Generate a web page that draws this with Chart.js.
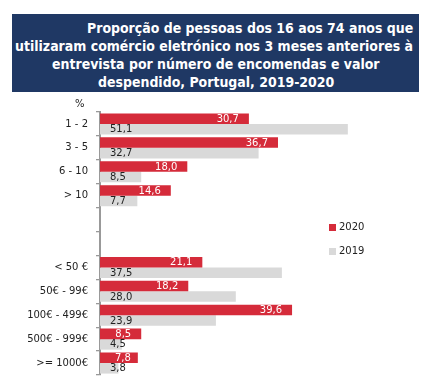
<!DOCTYPE html>
<html><head><meta charset="utf-8">
<script src="https://cdn.jsdelivr.net/npm/chart.js@4.4.1/dist/chart.umd.min.js"></script>
<style>
html,body{margin:0;padding:0;background:#fff;width:432px;height:389px;overflow:hidden;font-family:"DejaVu Sans",sans-serif;}
#title{position:absolute;left:12px;top:14px;width:407px;height:78px;background:#1f3864;}
.tl{position:absolute;white-space:nowrap;color:#fff;font-weight:bold;font-size:14px;line-height:16px;font-family:"DejaVu Sans",sans-serif;transform-origin:0 50%;}
#wrap{position:absolute;left:0;top:0;width:432px;height:389px;}
.lg{position:absolute;font-size:10px;color:#222;line-height:12px;}
.sw{position:absolute;width:7px;height:7px;}
</style></head>
<body>
<div id="title"></div>
<div id="wrap"><canvas id="c" width="432" height="389"></canvas></div>
<div class="lg" style="left:75px;top:98px;">%</div>
<div class="sw" style="left:329px;top:224px;background:#d52b3a;"></div>
<div class="lg" style="left:339px;top:221px;">2020</div>
<div class="sw" style="left:329px;top:248px;background:#d9d9d9;"></div>
<div class="lg" style="left:339px;top:245px;">2019</div>
<script>
const titleLines = [
  "Proporção de pessoas dos 16 aos 74 anos que",
  "utilizaram comércio eletrónico nos 3 meses anteriores à",
  "entrevista por número de encomendas e valor",
  "despendido, Portugal, 2019-2020"
];
const categories = ['1 - 2','3 - 5','6 - 10','> 10','','','< 50 €','50€ - 99€','100€ - 499€','500€ - 999€','>= 1000€'];
const values2020 = [30.7, 36.7, 18.0, 14.6, null, null, 21.1, 18.2, 39.6, 8.5, 7.8];
const values2019 = [51.1, 32.7, 8.5, 7.7, null, null, 37.5, 28.0, 23.9, 4.5, 3.8];
const seriesNames = ['2020','2019'];

// title layout
(function(){
  const box = document.getElementById('title');
  const els = titleLines.map(t=>{const d=document.createElement('div');d.className='tl';d.textContent=t;box.appendChild(d);return d;});
  const w2 = els[1].getBoundingClientRect().width;
  const s = 398 / w2;
  const specs = [{r:413},{r:413},{c:216},{c:216}];
  els.forEach((el,i)=>{
    const w = el.getBoundingClientRect().width*s;
    let left;
    if (specs[i].r!==undefined) left = specs[i].r - w; else left = specs[i].c - w/2;
    el.style.left = (left-12)+'px';
    el.style.top = (6 + i*18)+'px';
    el.style.transform = 'scaleX('+s+')';
  });
})();

const fmt = v => v.toFixed(1).replace('.', ',');

const labelPlugin = {
  id:'labels',
  afterDatasetsDraw(chart){
    const ctx = chart.ctx;
    ctx.save();
    ctx.font = '10px "DejaVu Sans"';
    ctx.textBaseline = 'middle';
    chart.data.datasets.forEach((ds,di)=>{
      const meta = chart.getDatasetMeta(di);
      meta.data.forEach((el,i)=>{
        const v = ds.data[i];
        if (v===null || v===undefined) return;
        const t = fmt(v);
        const w = ctx.measureText(t).width;
        if (di===0){
          ctx.fillStyle = '#ffffff';
          let x = el.x - 10 - w;
          if (x < el.base + 15) x = el.base + 15;
          ctx.textAlign = 'left';
          ctx.fillText(t, x, el.y+0.5);
        } else {
          ctx.fillStyle = '#222222';
          ctx.textAlign = 'left';
          ctx.fillText(t, el.base + 10, el.y+0.5);
        }
      });
    });
    ctx.restore();
  }
};

new Chart(document.getElementById('c'), {
  type:'bar',
  data:{
    labels: categories,
    datasets:[
      {label:seriesNames[0], data:values2020, backgroundColor:'#d52b3a', borderWidth:0},
      {label:seriesNames[1], data:values2019, backgroundColor:'#d9d9d9', borderWidth:0}
    ]
  },
  options:{
    indexAxis:'y',
    responsive:false,
    devicePixelRatio:1,
    animation:false,
    categoryPercentage:0.88,
    barPercentage:1.0,
    layout:{padding:{left:0,top:112,bottom:12,right:41}},
    plugins:{legend:{display:false},tooltip:{enabled:false}},
    scales:{
      x:{display:false,min:0,max:60},
      y:{
        afterFit(scale){scale.width=100;},
        grid:{display:true,drawOnChartArea:false,drawTicks:true,tickLength:4,color:'#999999',lineWidth:1.3},
        border:{display:true,color:'#999999',width:2},
        ticks:{padding:8,color:'#222222',font:{family:'"DejaVu Sans"',size:10},autoSkip:false}
      }
    }
  },
  plugins:[labelPlugin]
});
</script>
</body></html>
